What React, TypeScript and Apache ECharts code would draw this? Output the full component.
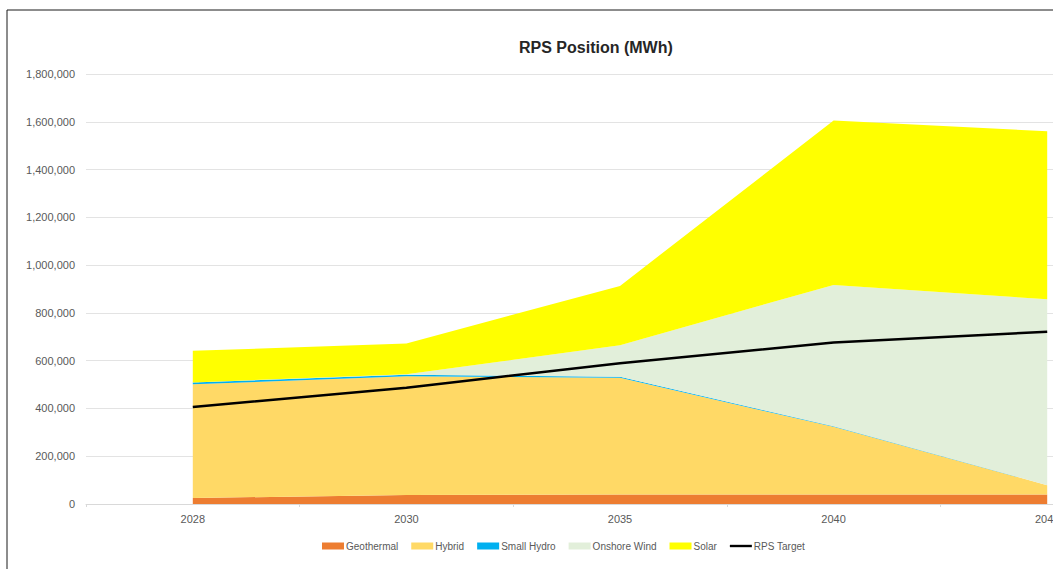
import React, { useEffect, useRef } from "react";
import * as echarts from "echarts";

// Years on the category axis
const years = ["2028", "2030", "2035", "2040", "2045"];

// Generation by resource (MWh), stacked
const geothermal = [25000, 38000, 40000, 40000, 40000];
const hybrid = [476000, 497000, 488000, 283000, 39000];
const smallHydro = [8000, 6000, 5000, 2000, 0];
const onshoreWind = [0, 2000, 132000, 592000, 778000];
const solar = [132000, 129000, 248000, 688000, 703000];

// Renewable portfolio standard target (MWh)
const rpsTarget = [406000, 487000, 589000, 676000, 721000];

const FONT = "'Liberation Sans', Arial, sans-serif";
const TEXT = "#595959";

// The plotting canvas is wider than the visible frame; the last year runs off the right edge
const CANVAS_W = 1160;
const FRAME_W = 1053;
const FRAME_H = 569;

function areaSeries(name: string, data: number[], color: string) {
  return {
    name,
    type: "line",
    stack: "rps",
    data,
    symbol: "none",
    itemStyle: { color },
    lineStyle: { width: 0, color },
    areaStyle: { color, opacity: 1 },
    emphasis: { disabled: true },
  };
}

export default function App() {
  const ref = useRef<HTMLDivElement>(null);

  useEffect(() => {
    if (!ref.current) return;
    const chart = echarts.init(ref.current, undefined, { renderer: "svg" });
    chart.setOption({
      animation: false,
      backgroundColor: "#ffffff",
      title: {
        text: "RPS Position (MWh)",
        left: 514,
        top: 34,
        textStyle: { fontFamily: FONT, fontSize: 16, fontWeight: "bold", color: "#262626" },
      },
      grid: { left: 86, right: CANVAS_W - 1154, top: 74, bottom: 65, containLabel: false },
      legend: {
        left: 322,
        top: 541,
        padding: 0,
        itemWidth: 22,
        itemHeight: 7,
        itemGap: 13,
        textStyle: { fontFamily: FONT, fontSize: 10, color: TEXT, padding: [0, 0, 0, -3] },
        data: [
          { name: "Geothermal", icon: "rect" },
          { name: "Hybrid", icon: "rect" },
          { name: "Small Hydro", icon: "rect" },
          { name: "Onshore Wind", icon: "rect" },
          { name: "Solar", icon: "rect" },
          { name: "RPS Target", icon: "path://M0,0H24V2.6H0Z" },
        ],
      },
      xAxis: {
        type: "category",
        data: years,
        boundaryGap: true,
        axisLine: { lineStyle: { color: "#d9d9d9", width: 1 } },
        axisTick: { show: true, length: 3, lineStyle: { color: "#d9d9d9" } },
        axisLabel: { fontFamily: FONT, fontSize: 11, color: TEXT, margin: 9 },
      },
      yAxis: {
        type: "value",
        min: 0,
        max: 1800000,
        interval: 200000,
        axisLine: { show: false },
        axisTick: { show: false },
        splitLine: { lineStyle: { color: "#e3e3e3", width: 1 } },
        axisLabel: {
          fontFamily: FONT,
          fontSize: 11,
          color: TEXT,
          margin: 11,
          formatter: (v: number) => v.toLocaleString("en-US"),
        },
      },
      series: [
        areaSeries("Geothermal", geothermal, "#ED7D31"),
        areaSeries("Hybrid", hybrid, "#FFD966"),
        areaSeries("Small Hydro", smallHydro, "#00B0F0"),
        areaSeries("Onshore Wind", onshoreWind, "#E2EFDA"),
        areaSeries("Solar", solar, "#FFFF00"),
        {
          name: "RPS Target",
          type: "line",
          data: rpsTarget,
          symbol: "none",
          itemStyle: { color: "#000000" },
          lineStyle: { color: "#000000", width: 2.5 },
          z: 5,
          emphasis: { disabled: true },
        },
      ],
      graphic: [
        { type: "line", shape: { x1: 7, y1: 10, x2: CANVAS_W, y2: 10 }, style: { stroke: "#1a1a1a", lineWidth: 1 } },
        { type: "line", shape: { x1: 7, y1: 10, x2: 7, y2: FRAME_H }, style: { stroke: "#1a1a1a", lineWidth: 1 } },
      ],
    });
    return () => chart.dispose();
  }, []);

  return (
    <div
      style={{
        position: "fixed",
        left: 0,
        top: 0,
        width: FRAME_W,
        height: FRAME_H,
        overflow: "hidden",
        background: "#ffffff",
      }}
    >
      <div ref={ref} style={{ width: CANVAS_W, height: FRAME_H }} />
    </div>
  );
}
